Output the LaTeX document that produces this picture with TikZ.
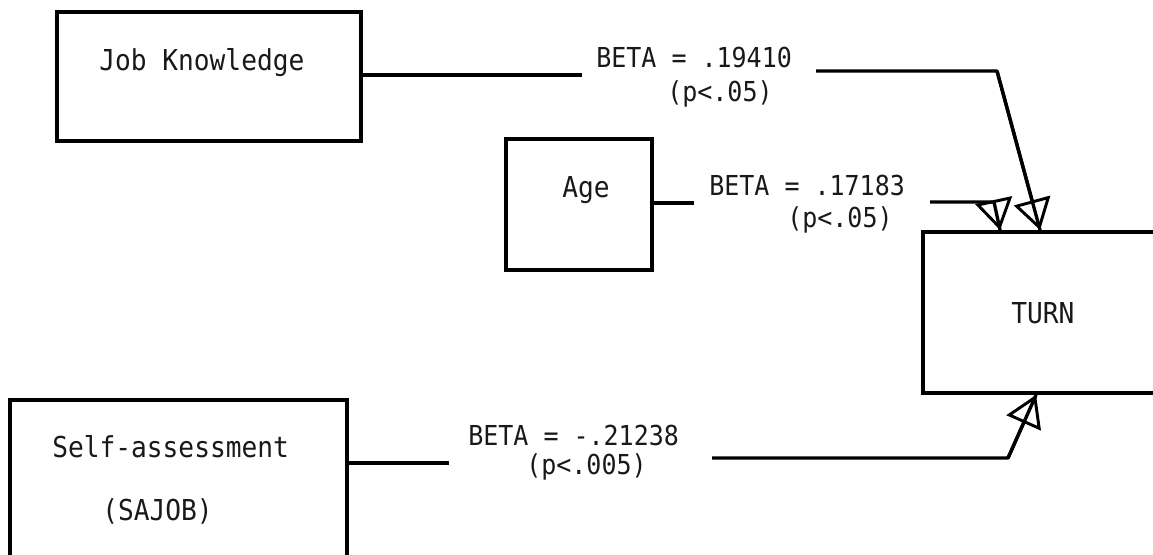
\documentclass[tikz,border=0pt]{standalone}
\usepackage{fontspec}
\setmonofont{DejaVu Sans Mono}[FakeStretch=0.91]
\usetikzlibrary{arrows.meta,calc}
\begin{document}
\begin{tikzpicture}[x=0.75pt,y=-0.75pt,
  box/.style={draw, line width=2.9pt, inner sep=0pt},
  conn/.style={line width=2.5pt, line join=round},
  tri/.style={-{Triangle[open,length=23pt,width=28pt,line width=2.2pt]}},
  lbl/.style={font=\ttfamily\fontsize{20.6}{24}\selectfont, text=black!90, inner sep=0pt, anchor=base west},
  boxlbl/.style={lbl, font=\ttfamily\fontsize{21.6}{25}\selectfont}]
\useasboundingbox (0,0) rectangle (1153,554);
\clip (0,0) rectangle (1153,554);
% boxes
\node[box, minimum width=228pt, minimum height=96.75pt] (jk) at (209,76.5) {};
\node[box, minimum width=109.5pt, minimum height=98.25pt] (age) at (579,204.5) {};
\node[box, minimum width=192.75pt, minimum height=120.75pt] (turn) at (1051.5,312.5) {};
\node[box, minimum width=252.75pt, minimum height=135pt] (self) at (178.5,490) {};
% texts
\node[boxlbl] (tjk) at (99,70) {Job Knowledge};
\node[boxlbl] (tage) at (562,197) {Age};
\node[boxlbl] (tturn) at (1011,323) {TURN};
\node[boxlbl] (tself1) at (52,457) {Self-assessment};
\node[boxlbl] (tself2) at (102,520) {(SAJOB)};
\node[lbl] (b1) at (596,67) {BETA = .19410};
\node[lbl] (p1) at (667,101) {(p<.05)};
\node[lbl] (b2) at (709,195) {BETA = .17183};
\node[lbl] (p2) at (787,227) {(p<.05)};
\node[lbl] (b3) at (468,445) {BETA = -.21238};
\node[lbl] (p3) at (526,474) {(p<.005)};
% tips
\coordinate (tipA) at ($(turn.north west)+(79,0)$);
\coordinate (tipB) at ($(turn.north west)+(119,0)$);
\coordinate (tipC) at ($(turn.south west)+(115,0)$);
% job knowledge -> turn
\coordinate (j1) at (582,75);
\draw[conn] (jk.east |- j1) -- (j1);
\coordinate (j2) at (816,71);
\coordinate (j3) at (997,71);
\draw[conn,tri] (j2) -- (j3) -- (tipB);
\draw[conn] (j3) -- (tipB);
% age -> turn
\coordinate (a1) at (694,203);
\draw[conn] (age.east |- a1) -- (a1);
\coordinate (a2) at (930,202);
\coordinate (a3) at (994,202);
\draw[conn,tri] (a2) -- (a3) -- (tipA);
\draw[conn] (a3) -- (tipA);
% self -> turn
\coordinate (s1) at (449,463);
\draw[conn] (self.east |- s1) -- (s1);
\coordinate (s2) at (712,458);
\coordinate (s3) at (1008,458);
\draw[conn,tri] (s2) -- (s3) -- (tipC);
\draw[conn] (s3) -- (tipC);
\end{tikzpicture}
\end{document}
